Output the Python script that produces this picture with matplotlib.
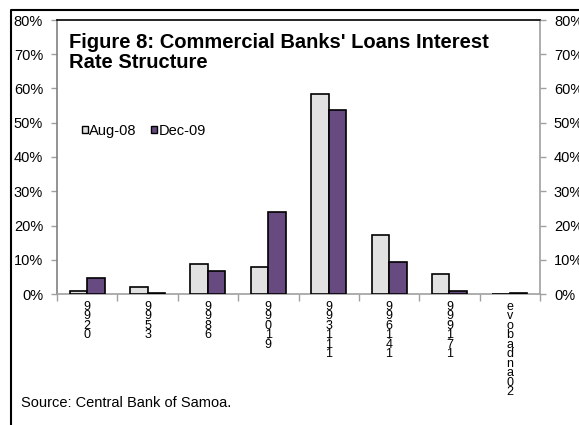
import matplotlib
matplotlib.use("Agg")
import matplotlib.pyplot as plt
from matplotlib.lines import Line2D
from matplotlib.ticker import PercentFormatter
import numpy as np

plt.rcParams['font.family'] = ['Liberation Sans', 'DejaVu Sans']

# Interest rate bands (%) and share of loans in each band
categories = ["0-2.99", "3-5.99", "6-8.99", "9-10.99", "11-13.99",
              "14-16.99", "17-19.99", "20 and above"]
aug08 = [1.0, 2.0, 8.8, 8.0, 58.3, 17.1, 5.9, 0.0]
dec09 = [4.6, 0.3, 6.6, 24.0, 53.7, 9.3, 1.0, 0.4]
series_names = ["Aug-08", "Dec-09"]
yticks = [0, 10, 20, 30, 40, 50, 60, 70, 80]

W, H, DPI = 579, 425, 100
fig = plt.figure(figsize=(W / DPI, H / DPI), dpi=DPI)
fig.patch.set_facecolor("white")

# plot area in pixel terms
left_px, right_px, top_px, bottom_px = 57, 540, 20, 294
ax = fig.add_axes([left_px / W, 1 - bottom_px / H,
                   (right_px - left_px) / W, (bottom_px - top_px) / H])

x = np.arange(len(categories)) + 0.5
bw = 0.29
ax.bar(x - bw / 2, aug08, bw, color="#E1E1E1", edgecolor="black",
       linewidth=1.2, label=series_names[0], zorder=3)
ax.bar(x + bw / 2, dec09, bw, color="#674A7F", edgecolor="black",
       linewidth=1.2, label=series_names[1], zorder=3)

ax.set_xlim(0, len(categories))
ax.set_ylim(0, 80)
ax.set_yticks(yticks)
ax.yaxis.set_major_formatter(PercentFormatter(decimals=0))
ax.set_xticks(np.arange(len(categories) + 1))
ax.set_xticklabels([])

grey = "#A0A0A0"
fs = 10.5
ax.tick_params(axis="y", direction="out", length=4, width=1, color=grey,
               labelsize=fs, pad=6)
ax.tick_params(axis="x", direction="out", length=5, width=1, color=grey)
ax.spines["top"].set_color("black")
ax.spines["left"].set_color("#808080")
ax.spines["right"].set_color(grey)
ax.spines["bottom"].set_color(grey)
for s in ax.spines.values():
    s.set_linewidth(1.2)

# mirrored percentage axis on the right
ax2 = ax.twinx()
ax2.set_ylim(ax.get_ylim())
ax2.set_yticks(yticks)
ax2.yaxis.set_major_formatter(PercentFormatter(decimals=0))
ax2.tick_params(axis="y", direction="out", length=4, width=1, color=grey,
                labelsize=fs, pad=6)
for s in ax2.spines.values():
    s.set_visible(False)

# category labels stacked character by character, reading upward
pitch = 9.3
for xi, lab in zip(x, categories):
    chars = [c for c in lab[::-1] if c != " "]
    glyphs = [c for c in chars if c not in ".-"]
    ax.annotate("\n".join(glyphs), xy=(xi, 0), xycoords=("data", "axes fraction"),
                xytext=(0, -7), textcoords="offset pixels",
                ha="center", va="top", fontsize=9, linespacing=0.72,
                multialignment="center")
    row = 0
    for c in chars:
        if c in ".-":
            yoff = -(8 + row * pitch)
            ax.annotate(c, xy=(xi, 0), xycoords=("data", "axes fraction"),
                        xytext=(0, yoff), textcoords="offset pixels",
                        ha="center", va="center", fontsize=6)
        else:
            row += 1

# title inside the plot area
fig.text(69 / W, 1 - 68 / H, "Figure 8: Commercial Banks' Loans Interest\nRate Structure",
         fontsize=14.5, fontweight="bold", ha="left", va="baseline",
         linespacing=1.08)

leg = ax.legend(loc="center left",
                bbox_to_anchor=((82 - left_px) / (right_px - left_px),
                                1 - (131 - top_px) / (bottom_px - top_px)),
                ncol=2, frameon=False, fontsize=fs, handlelength=0.4,
                handleheight=0.4, handletextpad=0.1, columnspacing=1.0,
                borderaxespad=0, borderpad=0)
for h in leg.legend_handles:
    h.set_linewidth(1.0)

fig.text(21 / W, 1 - 407 / H, "Source: Central Bank of Samoa.", fontsize=fs,
         ha="left", va="baseline")

# outer frame: top and left rules
fig.add_artist(Line2D([1.0, 11 / W, 11 / W], [1 - 10 / H, 1 - 10 / H, 0.0],
                      color="black", linewidth=1.5, transform=fig.transFigure,
                      clip_on=False, zorder=10))

fig.savefig("out.png", dpi=DPI)
